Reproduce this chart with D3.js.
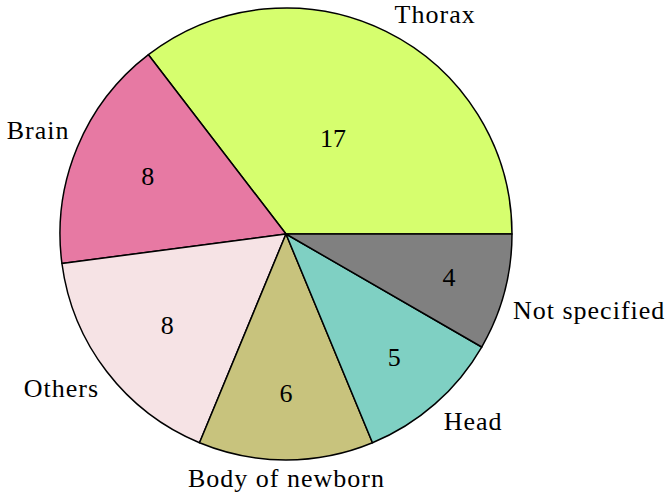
<!DOCTYPE html>
<html><head><meta charset="utf-8">
<script src="https://cdn.jsdelivr.net/npm/d3@7"></script>
<style>html,body{margin:0;padding:0;background:#fff;}</style>
</head><body>
<svg id="chart" width="666" height="497"></svg>
<script>
const categories = ["Thorax", "Brain", "Others", "Body of newborn", "Head", "Not specified"];
const values = [17, 8, 8, 6, 5, 4];
const colors = ["#d6fe6e", "#e779a3", "#f6e3e5", "#c8c37d", "#7fd0c3", "#808080"];

const W = 666, H = 497;
const cx = 286, cy = 234, R = 226;
const FONT = "Liberation Serif";
const FS = 26;
const LS = 1;
const sep = FS / 3;

const svg = d3.select("#chart");
svg.append("rect").attr("width", W).attr("height", H).attr("fill", "#fff");
const g = svg.append("g").attr("transform", `translate(${cx},${cy})`);

// counterclockwise from 3 o'clock
const pie = d3.pie().sort(null).value(d => d.v)
  .startAngle(Math.PI / 2).endAngle(Math.PI / 2 - 2 * Math.PI);
const data = categories.map((c, i) => ({c, v: values[i], col: colors[i]}));
const arcs = pie(data);
const arc = d3.arc().innerRadius(0).outerRadius(R);

g.selectAll("path.slice").data(arcs).join("path")
  .attr("class", "slice")
  .attr("d", arc)
  .attr("fill", d => d.data.col)
  .attr("stroke", "#000").attr("stroke-width", 1.5).attr("stroke-linejoin", "round");

const ctx = document.createElement("canvas").getContext("2d");
ctx.font = `${FS}px "${FONT}"`;
function metrics(t) {
  const m = ctx.measureText(t);
  return {w: m.width, a: m.actualBoundingBoxAscent, d: m.actualBoundingBoxDescent};
}

function midMath(d) {
  const a = (d.startAngle + d.endAngle) / 2;
  return Math.PI / 2 - a;
}

// numbers
arcs.forEach(d => {
  const span = Math.abs(d.endAngle - d.startAngle) * 180 / Math.PI;
  const pos = (Math.min(span / 110 * -0.3, 0) + 0.8) * R * 1.04;
  const th = midMath(d);
  const x = pos * Math.cos(th), y = -pos * Math.sin(th);
  const m = metrics(String(d.value));
  g.append("text").attr("x", x).attr("y", y + (m.a - m.d) / 2)
    .attr("text-anchor", "middle")
    .attr("font-family", FONT).attr("font-size", FS).attr("fill", "#000")
    .text(d.value);
});

// labels
arcs.forEach(d => {
  const th = midMath(d);
  const c = Math.cos(th), s = Math.sin(th);
  const px = R * c, py = -R * s;
  const m = metrics(d.data.c);
  let x, anchor, base;
  if (c > 1e-6) { x = px + sep; anchor = "start"; }
  else if (c < -1e-6) { x = px - sep + LS; anchor = "end"; }
  else { x = px + LS / 2; anchor = "middle"; }
  if (s > 1e-6) base = py - sep - m.d;
  else if (s < -1e-6) base = py + sep + m.a;
  else base = py + (m.a - m.d) / 2;
  g.append("text").attr("x", x).attr("y", base)
    .attr("text-anchor", anchor)
    .attr("font-family", FONT).attr("font-size", FS).attr("fill", "#000")
    .attr("letter-spacing", LS)
    .text(d.data.c);
});
</script>
</body></html>
